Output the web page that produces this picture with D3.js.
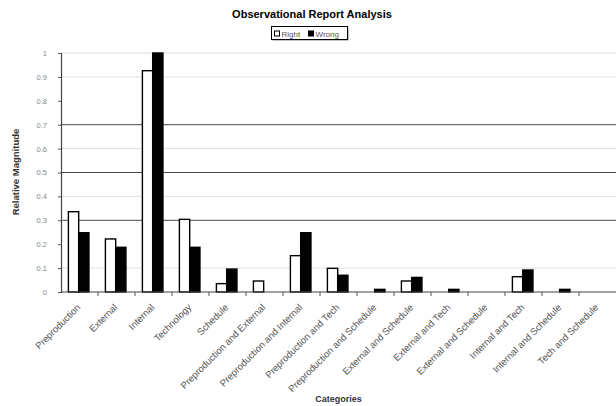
<!DOCTYPE html>
<html>
<head>
<meta charset="utf-8">
<script src="https://cdn.jsdelivr.net/npm/d3@7"></script>
<style>
  html, body { margin: 0; padding: 0; background: #fff; }
  svg { display: block; font-family: "Liberation Sans", Arial, sans-serif; }
</style>
</head>
<body>
<svg id="chart" width="616" height="406"></svg>
<script>
// Observational report: relative magnitude of right vs wrong observations per category
const categories = [
  "Preproduction", "External", "Internal", "Technology", "Schedule",
  "Preproduction and External", "Preproduction and Internal", "Preproduction and Tech",
  "Preproduction and Schedule", "External and Schedule", "External and Tech",
  "External and Schedule ", "Internal and Tech", "Internal and Schedule", "Tech and Schedule"
];
const rightValues = [0.336, 0.222, 0.926, 0.304, 0.035, 0.046, 0.152, 0.099, 0, 0.046, 0, 0, 0.064, 0, 0];
const wrongValues = [0.248, 0.187, 1.0, 0.187, 0.096, 0, 0.248, 0.07, 0.011, 0.061, 0.011, 0, 0.092, 0.011, 0];
const seriesNames = ["Right", "Wrong"];
const yTickValues = [0, 0.1, 0.2, 0.3, 0.4, 0.5, 0.6, 0.7, 0.8, 0.9, 1];
const yTickLabels = ["0", "0.1", "0.2", "0.3", "0.4", "0.5", "0.6", "0.7", "0.8", "0.9", "1"];
const darkGridValues = [0.3, 0.5, 0.7];
const lightGridValues = [0.1, 0.4, 0.6, 0.9, 1];

const svg = d3.select("#chart");
const plotLeft = 61, plotRight = 616, plotTop = 53, plotBottom = 292;

const x = d3.scaleBand().domain(categories).range([plotLeft, plotRight]).paddingInner(0).paddingOuter(0);
const xs = d3.scaleBand().domain(seriesNames).range([0, x.bandwidth()])
  .paddingInner(0).paddingOuter(0.8).align(0.45);
const y = d3.scaleLinear().domain([0, 1]).range([plotBottom, plotTop]);
const fills = { Right: "#fff", Wrong: "#000" };

// gridlines
svg.append("g").selectAll("line").data(lightGridValues).join("line")
  .attr("x1", plotLeft).attr("x2", plotRight)
  .attr("y1", d => y(d)).attr("y2", d => y(d))
  .attr("stroke", "#e0e0e0").attr("stroke-width", 1);
svg.append("g").selectAll("line").data(darkGridValues).join("line")
  .attr("x1", plotLeft).attr("x2", plotRight)
  .attr("y1", d => y(d)).attr("y2", d => y(d))
  .attr("stroke", "#4a4a4a").attr("stroke-width", 1);

// bars
const groups = svg.append("g").selectAll("g").data(categories).join("g")
  .attr("transform", c => `translate(${x(c)},0)`);
groups.selectAll("rect")
  .data((c, i) => [
    { s: "Right", v: rightValues[i] },
    { s: "Wrong", v: wrongValues[i] }
  ].filter(d => d.v > 0))
  .join("rect")
  .attr("x", d => xs(d.s))
  .attr("width", xs.bandwidth())
  .attr("y", d => y(d.v))
  .attr("height", d => y(0) - y(d.v))
  .attr("fill", d => fills[d.s])
  .attr("stroke", "#000")
  .attr("stroke-width", 1.4);

// y axis
const yAxis = svg.append("g").attr("transform", `translate(${plotLeft},0)`)
  .call(d3.axisLeft(y).tickValues(yTickValues).tickSize(3).tickPadding(11)
    .tickFormat((d, i) => yTickLabels[i]));
yAxis.select(".domain").attr("stroke", "#444").attr("stroke-width", 1.2);
yAxis.selectAll(".tick line").attr("stroke", "#555");
yAxis.selectAll(".tick text").attr("fill", "#888").attr("font-size", 7.5)
  .attr("font-family", "Liberation Sans, Arial, sans-serif");

// x axis line and boundary ticks
svg.append("line").attr("x1", plotLeft).attr("x2", plotRight)
  .attr("y1", plotBottom).attr("y2", plotBottom).attr("stroke", "#444").attr("stroke-width", 1.2);
svg.append("g").selectAll("line").data(categories.slice(1)).join("line")
  .attr("x1", c => x(c)).attr("x2", c => x(c))
  .attr("y1", plotBottom).attr("y2", plotBottom + 4)
  .attr("stroke", "#555");

// category labels, slanted
svg.append("g").selectAll("text").data(categories).join("text")
  .attr("transform", c => `translate(${x(c) + x.bandwidth() / 2 + 1.5},${plotBottom + 16}) rotate(-45)`)
  .attr("text-anchor", "end")
  .attr("font-size", 9.5)
  .attr("fill", "#555")
  .text(c => c.trim());

// titles
svg.append("text").attr("x", 312).attr("y", 17.5).attr("text-anchor", "middle")
  .attr("font-size", 11).attr("font-weight", "bold").text("Observational Report Analysis");
svg.append("text").attr("transform", "translate(19,172) rotate(-90)")
  .attr("text-anchor", "middle").attr("font-size", 9.5).attr("font-weight", "bold")
  .attr("fill", "#333").text("Relative Magnitude");
svg.append("text").attr("x", 338.5).attr("y", 402).attr("text-anchor", "middle")
  .attr("font-size", 9).attr("font-weight", "bold").attr("fill", "#333").text("Categories");

// legend
const legend = svg.append("g").attr("transform", "translate(271.5,26.5)");
legend.append("rect").attr("x", 1).attr("y", 1).attr("width", 76).attr("height", 13)
  .attr("fill", "#888");
legend.append("rect").attr("width", 76).attr("height", 13)
  .attr("fill", "#fff").attr("stroke", "#000").attr("stroke-width", 1);
const legendX = d3.scaleOrdinal().domain(seriesNames).range([3, 37]);
const items = legend.selectAll("g.item").data(seriesNames).join("g")
  .attr("transform", s => `translate(${legendX(s)},0)`);
items.append("rect").attr("x", 0).attr("y", 4.5).attr("width", 5).attr("height", 5)
  .attr("fill", s => fills[s]).attr("stroke", "#000").attr("stroke-width", 1);
items.append("text").attr("x", 7).attr("y", 10).attr("font-size", 8).attr("fill", "#555")
  .text(s => s);
</script>
</body>
</html>
